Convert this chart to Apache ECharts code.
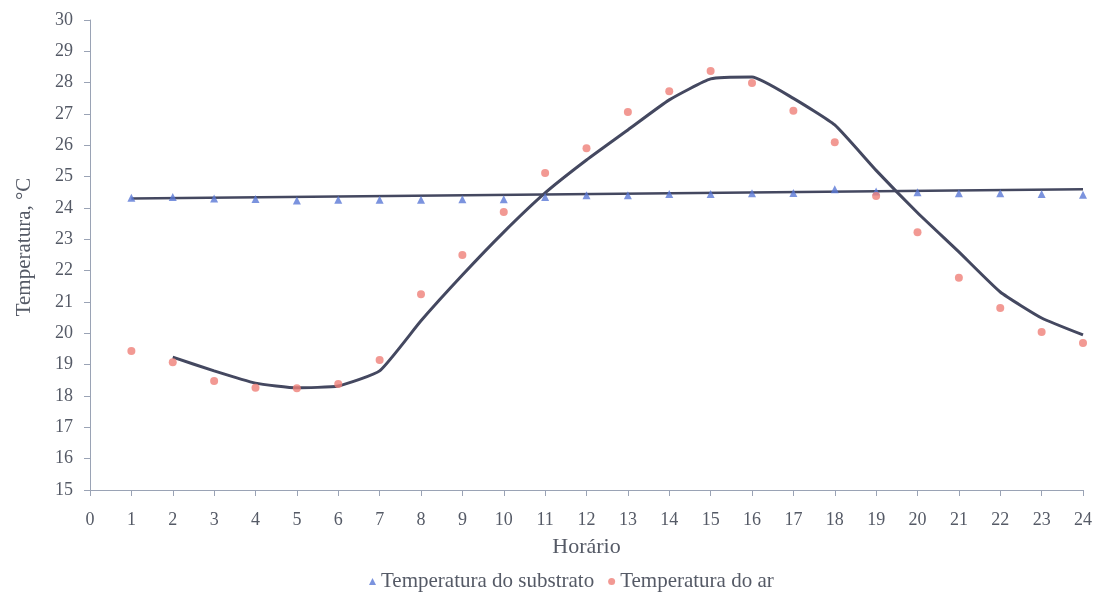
<!DOCTYPE html>
<html>
<head>
<meta charset="utf-8">
<script src="https://cdn.jsdelivr.net/npm/echarts@6/dist/echarts.min.js"></script>
<style>
html,body{margin:0;padding:0;background:#fff;}
#chart{width:1101px;height:598px;}
</style>
</head>
<body>
<div id="chart"></div>
<script>
const hours = [1,2,3,4,5,6,7,8,9,10,11,12,13,14,15,16,17,18,19,20,21,22,23,24];
const substrato = [24.33,24.35,24.3,24.29,24.24,24.26,24.26,24.26,24.28,24.28,24.35,24.41,24.41,24.45,24.45,24.47,24.48,24.6,24.53,24.5,24.47,24.47,24.45,24.42];
const ar = [19.44,19.08,18.48,18.26,18.25,18.38,19.15,21.25,22.5,23.87,25.12,25.91,27.06,27.73,28.37,27.99,27.1,26.1,24.38,23.23,21.77,20.81,20.04,19.69];
const trendSubHours = [1,24];
const trendSub = [24.3,24.6];
const trendArHours = [2,3,4,5,6,7,8,9,10,11,12,13,14,15,16,17,18,19,20,21,22,23,24];
const trendAr = [19.24,18.8,18.41,18.26,18.32,18.8,20.4,21.86,23.23,24.48,25.53,26.49,27.45,28.12,28.18,27.5,26.65,25.2,23.85,22.6,21.32,20.49,19.95];
const xTicks = {min:0,max:24,interval:1};
const yTicks = {min:15,max:30,interval:1};
const serNames = ['Temperatura do substrato','Temperatura do ar'];

const font = 'Liberation Serif';
const textColor = '#555a66';
const axisColor = '#9aa3b5';
const lineColor = '#444860';

const chart = echarts.init(document.getElementById('chart'));
chart.setOption({
  backgroundColor:'#ffffff',
  animation:false,
  textStyle:{fontFamily:font},
  grid:{left:90,right:18,top:20,bottom:108,containLabel:false},
  legend:{
    data:[{name:serNames[0],icon:'triangle'},{name:serNames[1],icon:'circle'}],
    top:566,left:364,itemWidth:7,itemHeight:7,itemGap:14,
    textStyle:{fontFamily:font,fontSize:21,color:textColor}
  },
  xAxis:{
    type:'value',min:xTicks.min,max:xTicks.max,interval:xTicks.interval,
    name:'Horário',nameLocation:'middle',nameGap:46,
    nameTextStyle:{fontFamily:font,fontSize:22,color:textColor},
    axisLine:{show:true,onZero:false,lineStyle:{color:axisColor,width:1}},
    axisTick:{show:true,inside:false,length:6,lineStyle:{color:axisColor}},
    axisLabel:{fontFamily:font,fontSize:18,color:textColor,margin:21},
    splitLine:{show:false}
  },
  yAxis:{
    type:'value',min:yTicks.min,max:yTicks.max,interval:yTicks.interval,
    name:'Temperatura, °C',nameLocation:'middle',nameGap:55,nameRotate:90,
    nameTextStyle:{fontFamily:font,fontSize:21,color:textColor,padding:[0,0,0,16]},
    axisLine:{show:true,lineStyle:{color:axisColor,width:1}},
    axisTick:{show:true,length:6,lineStyle:{color:axisColor}},
    axisLabel:{fontFamily:font,fontSize:18,color:textColor,margin:17},
    splitLine:{show:false}
  },
  series:[
    {
      name:'trendSub',type:'line',data:trendSubHours.map((h,i)=>[h,trendSub[i]]),
      showSymbol:false,symbol:'none',lineStyle:{color:lineColor,width:2.5},z:2,silent:true
    },
    {
      name:'trendAr',type:'line',data:trendArHours.map((h,i)=>[h,trendAr[i]]),
      showSymbol:false,symbol:'none',smooth:0.15,lineStyle:{color:lineColor,width:3},z:2,silent:true
    },
    {
      name:serNames[0],type:'scatter',data:hours.map((h,i)=>[h,substrato[i]]),
      symbol:'triangle',symbolSize:8,itemStyle:{color:'#5a78d6'},z:3
    },
    {
      name:serNames[1],type:'scatter',data:hours.map((h,i)=>[h,ar[i]]),
      symbol:'circle',symbolSize:8,itemStyle:{color:'#ef7f78'},z:3
    }
  ]
});
</script>
</body>
</html>
